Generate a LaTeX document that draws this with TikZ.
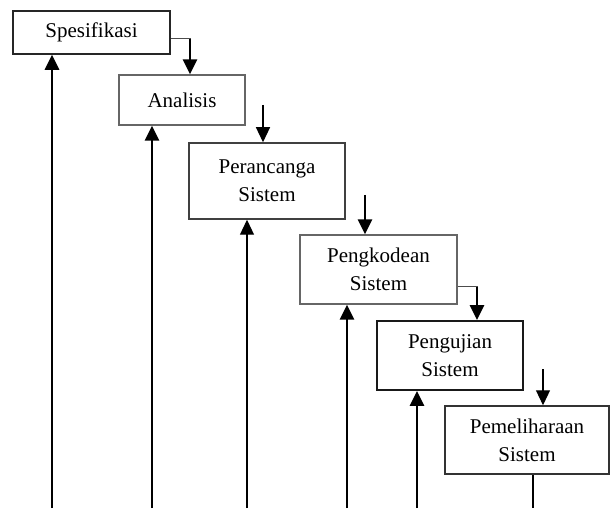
\documentclass[tikz,border=0pt]{standalone}
\usepackage{fontspec}
\setmainfont{Liberation Serif}
\usetikzlibrary{arrows.meta}
\begin{document}
\begin{tikzpicture}[x=1pt,y=-1pt,
  box/.style={draw, rectangle, inner sep=0pt, align=center, font=\fontsize{21}{28}\selectfont},
  thickln/.style={line width=2.8pt, black},
  thinln/.style={line width=1.2pt, black},
  elbow/.style={line width=1pt, black!70},
  tip/.style={-{Triangle[length=15pt,width=14pt]}}]
\useasboundingbox (0,0) rectangle (610,510);
\node[box, line width=1.6pt, draw=black!85, minimum width=157pt, minimum height=43pt] (spec) at (91.5,32.5) {Spesifikasi};
\node[box, line width=1.2pt, draw=black!60, minimum width=126pt, minimum height=50pt] (ana) at (182,100) {Analisis};
\node[box, line width=1.5pt, draw=black!75, minimum width=156pt, minimum height=76pt] (per) at (267,181) {Perancanga\\Sistem};
\node[box, line width=1.2pt, draw=black!60, minimum width=157pt, minimum height=69pt] (kod) at (378.5,269.5) {Pengkodean\\Sistem};
\node[box, line width=1.8pt, draw=black!90, minimum width=146pt, minimum height=69pt] (uji) at (450,355.5) {Pengujian\\Sistem};
\node[box, line width=1.5pt, draw=black!80, minimum width=164pt, minimum height=68pt] (pem) at (527,440) {Pemeliharaan\\Sistem};
% forward arrows
\coordinate (c1) at (190,39);
\coordinate (c2) at (263,105);
\coordinate (c3) at (365,195);
\coordinate (c4) at (477,287);
\coordinate (c5) at (543,369);
\draw[elbow] (spec.east |- c1) -- ([xshift=1pt]c1);
\draw[thickln, tip] (c1) -- (c1 |- ana.north);
\draw[thinln, tip] (c2) -- (c2 |- per.north);
\draw[thickln, tip] (c3) -- (c3 |- kod.north);
\draw[elbow] (kod.east |- c4) -- ([xshift=1pt]c4);
\draw[thickln, tip] (c4) -- (c4 |- uji.north);
\draw[thinln, tip] (c5) -- (c5 |- pem.north);
% feedback arrows
\coordinate (b1) at (52,508);
\coordinate (b2) at (152,508);
\coordinate (b2m) at (152,317);
\coordinate (b3) at (247,508);
\coordinate (b4) at (347,508);
\coordinate (b5) at (417,508);
\coordinate (b6) at (533,508);
\draw[thickln, tip] (b1) -- (b1 |- spec.south);
\draw[thinln] (b2) -- (b2m);
\draw[thickln, tip] (b2m) -- (b2 |- ana.south);
\draw[thinln, tip] (b3) -- (b3 |- per.south);
\draw[thickln, tip] (b4) -- (b4 |- kod.south);
\draw[thickln, tip] (b5) -- (b5 |- uji.south);
\draw[thinln] (pem.south -| b6) -- (b6);
\end{tikzpicture}
\end{document}
